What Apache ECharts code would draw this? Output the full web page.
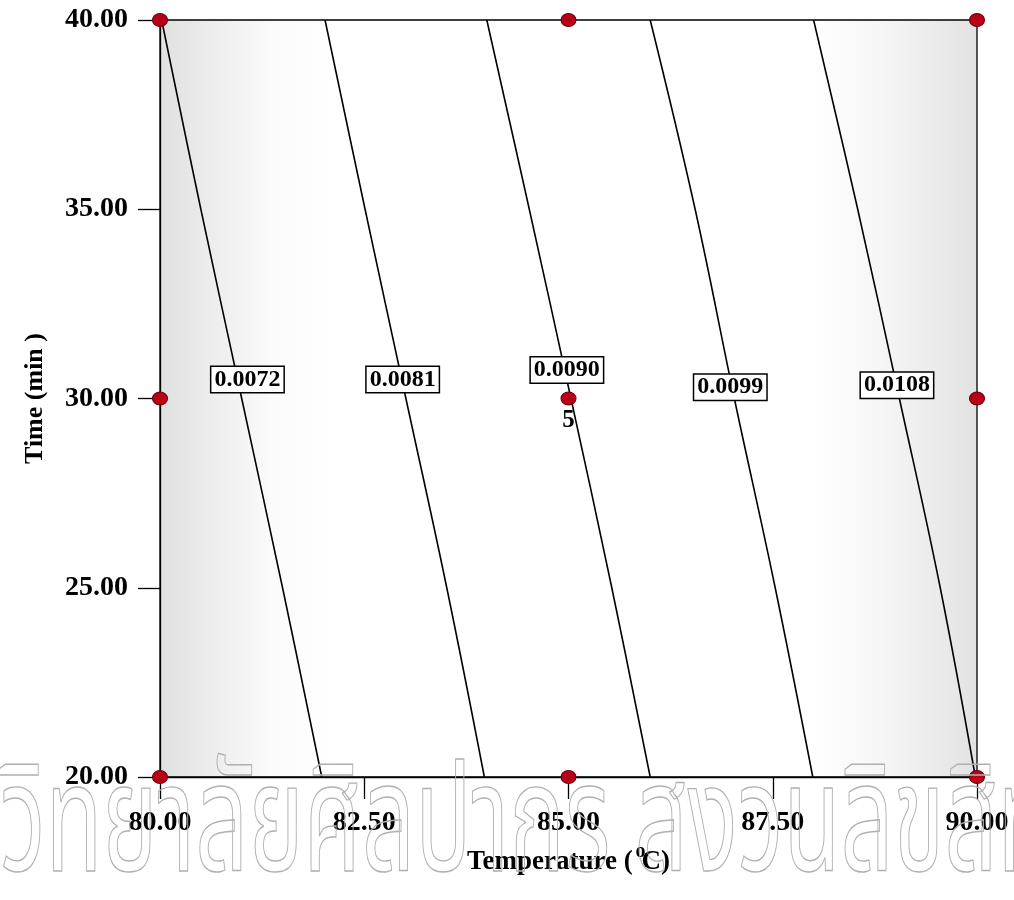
<!DOCTYPE html>
<html>
<head>
<meta charset="utf-8">
<script src="https://cdn.jsdelivr.net/npm/echarts@6/dist/echarts.min.js"></script>
<style>
html,body{margin:0;padding:0;background:#fff;}
#chart{width:1014px;height:900px;}
</style>
</head>
<body>
<div id="chart"></div>
<script>
// ---- data ----
const xTicks = [80, 82.5, 85, 87.5, 90];
const yTicks = [20, 25, 30, 35, 40];
const contourTime = [40, 35, 30, 25, 20];
const contour0072 = [80.02, 80.50, 81.00, 81.50, 81.98];
const contour0081 = [82.02, 82.51, 83.01, 83.51, 83.97];
const contour0090 = [84.00, 84.52, 85.03, 85.53, 86.00];
const contour0099 = [86.00, 86.55, 87.03, 87.53, 87.99];
const contour0108 = [88.00, 88.54, 89.05, 89.55, 89.98];
const contourLevels = ['0.0072', '0.0081', '0.0090', '0.0099', '0.0108'];
const labelTemp = [81.07, 82.97, 84.98, 86.98, 89.02];
const labelTime = [30.5, 30.5, 30.75, 30.3, 30.35];
const designTemp = [80, 80, 80, 85, 85, 85, 90, 90, 90];
const designTime = [20, 30, 40, 20, 30, 40, 20, 30, 40];
const centerReps = '5';
const watermark = 'มหาวิทยาลัยศิลปากร สงวนลิขสิทธิ์';

const serif = '"Liberation Serif", "Times New Roman", serif';
const contours = [contour0072, contour0081, contour0090, contour0099, contour0108];

const chart = echarts.init(document.getElementById('chart'), null, {renderer: 'canvas'});

const series = [];
contours.forEach((c, i) => {
  series.push({
    type: 'line',
    name: contourLevels[i],
    data: c.map((t, k) => [t, contourTime[k]]),
    showSymbol: false,
    smooth: 0.4,
    lineStyle: {color: '#000', width: 1.6},
    z: 3,
    silent: true
  });
});
series.push({
  type: 'scatter',
  name: 'labels',
  data: labelTemp.map((t, i) => ({value: [t, labelTime[i]], name: contourLevels[i]})),
  symbolSize: 0,
  itemStyle: {opacity: 1},
  z: 5,
  label: {
    show: true,
    position: 'inside',
    formatter: p => p.name,
    fontFamily: serif,
    fontWeight: 'bold',
    fontSize: 24,
    color: '#000',
    opacity: 1,
    textBorderWidth: 0,
    backgroundColor: '#fff',
    borderColor: '#000',
    borderWidth: 1.5,
    padding: [1, 3, 0, 3]
  },
  silent: true
});
series.push({
  type: 'scatter',
  name: 'design',
  data: designTemp.map((t, i) => {
    const d = {value: [t, designTime[i]]};
    if (t === 85 && designTime[i] === 30) {
      d.label = {show: true, position: 'bottom', distance: 3, formatter: centerReps,
        fontFamily: serif, fontWeight: 'bold', fontSize: 25, color: '#000', opacity: 1};
    }
    return d;
  }),
  symbol: 'circle',
  symbolSize: [15, 13],
  itemStyle: {color: '#b80017', borderColor: '#6a0008', borderWidth: 1, opacity: 1},
  z: 6,
  silent: true
});

const axisLabelStyle = {fontFamily: serif, fontWeight: 'bold', fontSize: 28, color: '#000'};

chart.setOption({
  animation: false,
  backgroundColor: '#fff',
  grid: {
    left: 160, right: 37, top: 20, bottom: 123,
    show: true,
    borderColor: '#000',
    borderWidth: 1.3,
    backgroundColor: {
      type: 'linear', x: 0, y: 0, x2: 1, y2: 0,
      colorStops: [
        {offset: 0, color: '#e0e0e0'},
        {offset: 0.06, color: '#ececec'},
        {offset: 0.14, color: '#fbfbfb'},
        {offset: 0.22, color: '#ffffff'},
        {offset: 0.8, color: '#ffffff'},
        {offset: 0.88, color: '#f6f6f6'},
        {offset: 0.95, color: '#ebebeb'},
        {offset: 1, color: '#e2e2e2'}
      ]
    }
  },
  xAxis: {
    type: 'value', min: 80, max: 90, interval: 2.5,
    name: '{n|Temperature ( }{s|o}{n|C)}',
    nameLocation: 'middle', nameGap: 64,
    nameTextStyle: {
      rich: {
        n: {fontFamily: serif, fontWeight: 'bold', fontSize: 27, color: '#000'},
        s: {fontFamily: serif, fontWeight: 'bold', fontSize: 20, color: '#000', width: 2, padding: [0, 0, 20, 0]}
      }
    },
    axisLine: {lineStyle: {color: '#000', width: 1.3}},
    axisTick: {show: true, inside: false, length: 22, lineStyle: {color: '#000', width: 1.3}},
    axisLabel: Object.assign({margin: 32, formatter: v => v.toFixed(2)}, axisLabelStyle),
    splitLine: {show: false}
  },
  yAxis: {
    type: 'value', min: 20, max: 40, interval: 5,
    name: 'Time (min )',
    nameLocation: 'middle', nameGap: 112, nameRotate: 90,
    nameTextStyle: {fontFamily: serif, fontWeight: 'bold', fontSize: 26, color: '#000'},
    axisLine: {lineStyle: {color: '#000', width: 1.3}},
    axisTick: {show: true, inside: false, length: 22, lineStyle: {color: '#000', width: 1.3}},
    axisLabel: Object.assign({margin: 32, formatter: v => v.toFixed(2)}, axisLabelStyle),
    splitLine: {show: false}
  },
  graphic: [{
    type: 'text',
    left: -150,
    top: 765,
    z: 100,
    silent: true,
    scaleX: 0.62,
    style: {
      text: watermark,
      font: '150px "Noto Sans Thai", "Noto Sans", "DejaVu Sans", sans-serif',
      fill: 'rgba(255,255,255,0)',
      stroke: '#b0b0b0',
      lineWidth: 1.4
    }
  }],
  series: series
});
</script>
</body>
</html>
